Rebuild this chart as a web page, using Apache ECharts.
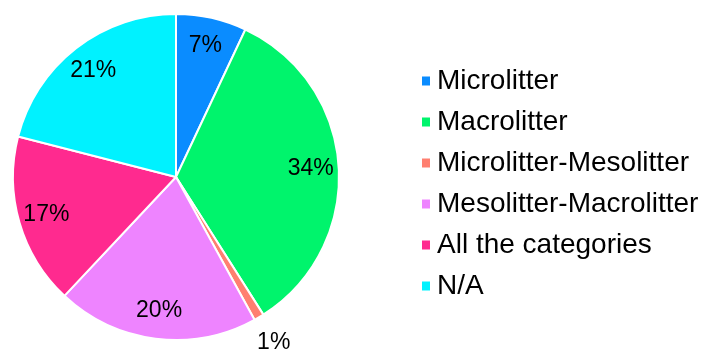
<!DOCTYPE html>
<html>
<head>
<meta charset="utf-8">
<style>
  html, body { margin: 0; padding: 0; background: #ffffff; }
  #chart { width: 702px; height: 349px; }
</style>
<script src="https://cdn.jsdelivr.net/npm/echarts@6/dist/echarts.min.js"></script>
</head>
<body>
<div id="chart"></div>
<script>
// Share of records per litter size class (percent)
const categories = [
  'Microlitter',
  'Macrolitter',
  'Microlitter-Mesolitter',
  'Mesolitter-Macrolitter',
  'All the categories',
  'N/A'
];
const shares = [7, 34, 1, 20, 17, 21];
const colors = ['#0a8cff', '#00f46c', '#ff7f70', '#ee84ff', '#ff2a8f', '#00f2ff'];
// slices whose label sits just outside the pie
const outsideLabel = ['Microlitter-Mesolitter'];

const FONT = "'Liberation Sans', Arial, Helvetica, sans-serif";
const CENTER = [176, 177];

const sliceData = categories.map((name, i) => ({
  name: name,
  value: shares[i],
  itemStyle: { color: colors[i] }
}));

// transparent ring used only to place the percentage text
function labelRing(radius, showFor) {
  return {
    type: 'pie',
    radius: radius,
    center: CENTER,
    startAngle: 90,
    clockwise: true,
    silent: true,
    avoidLabelOverlap: false,
    emphasis: { disabled: true },
    itemStyle: { color: 'rgba(0,0,0,0)', borderWidth: 0 },
    labelLine: { show: false },
    data: categories.map((name, i) => ({
      name: name,
      value: shares[i],
      label: {
        show: showFor(name),
        position: 'inside',
        formatter: '{c}%',
        color: '#000000',
        fontFamily: FONT,
        fontSize: 23
      }
    }))
  };
}

const chart = echarts.init(document.getElementById('chart'), null, { renderer: 'canvas' });
chart.setOption({
  animation: false,
  backgroundColor: '#ffffff',
  legend: {
    orient: 'vertical',
    left: 415,
    top: 61,
    itemWidth: 10,
    itemHeight: 11,
    itemGap: 11,
    icon: 'rect',
    selectedMode: false,
    textStyle: {
      color: '#000000',
      fontFamily: FONT,
      fontSize: 28,
      lineHeight: 30,
      padding: [0, 0, 0, 1]
    },
    data: categories.map((name, i) => ({ name: name, itemStyle: { color: colors[i] } }))
  },
  series: [
    {
      type: 'pie',
      radius: [0, 163],
      center: CENTER,
      startAngle: 90,
      clockwise: true,
      avoidLabelOverlap: false,
      itemStyle: { borderColor: '#ffffff', borderWidth: 2 },
      label: { show: false },
      labelLine: { show: false },
      emphasis: { scale: false },
      data: sliceData
    },
    labelRing([102, 162], name => outsideLabel.indexOf(name) < 0),
    labelRing([170, 208], name => outsideLabel.indexOf(name) >= 0)
  ]
});
</script>
</body>
</html>
